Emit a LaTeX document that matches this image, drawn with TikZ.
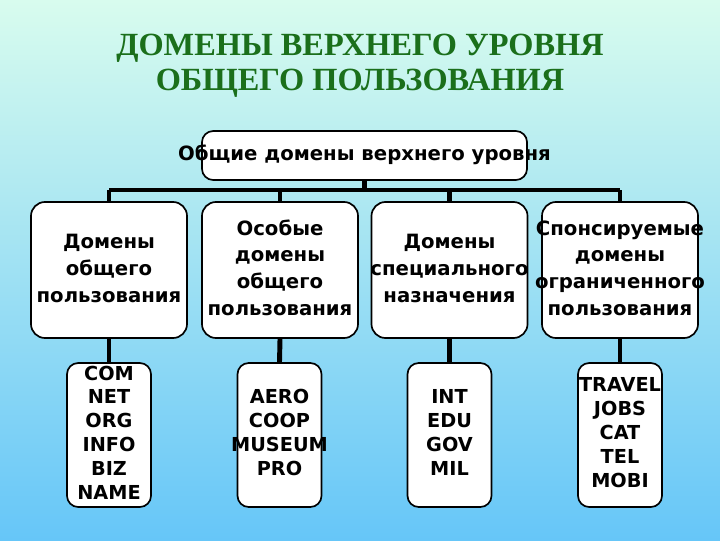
\documentclass[tikz,border=0pt]{standalone}
\usepackage{fontspec}
\newfontfamily\zagolovok{Liberation Serif}
\newfontfamily\shrift{DejaVu Sans}
\usetikzlibrary{positioning}
\definecolor{Zeleny}{HTML}{1B6F1B}
\definecolor{FonVerh}{HTML}{D8FCEE}
\definecolor{FonNiz}{HTML}{66C6F8}
\newcommand{\stroki}[1]{\makebox[0pt]{\begin{tabular}{@{}c@{}}#1\end{tabular}}}

\begin{document}
\begin{tikzpicture}[
  x=0.025cm,y=-0.025cm,
  blok/.style={draw=black,line width=1.2pt,rounded corners=10pt,fill=white,inner sep=0pt,
    minimum width=3.9cm,minimum height=3.4cm,font=\shrift\bfseries\fontsize{14}{19}\selectfont},
  spisok/.style={blok,rounded corners=8pt,minimum width=2.1cm,minimum height=3.6cm,
    font=\shrift\bfseries\fontsize{13.7}{17}\selectfont},
  svyaz/.style={line width=3.5pt,black}
]
  % fon i zagolovok
  \shade[top color=FonVerh,bottom color=FonNiz] (0,0) rectangle (720,540);
  \useasboundingbox (0,0) rectangle (720,540);
  \node[font=\zagolovok\bfseries\fontsize{23}{25}\selectfont,text=Zeleny,align=center] (zag)
    at (360,66) {ДОМЕНЫ ВЕРХНЕГО УРОВНЯ\\ОБЩЕГО ПОЛЬЗОВАНИЯ};

  % verhniy uroven
  \node[blok,rounded corners=8pt,minimum width=8.125cm,minimum height=1.225cm] (obshie)
    at (364.5,155.5) {\stroki{Общие домены верхнего уровня}};
  \coordinate (shina) at (364,190);

  % vidy domenov
  \node[blok] (vid1) at (109,270) {\stroki{Домены\\общего\\пользования}};
  \node[blok] (vid2) at (280,270) {\stroki{Особые\\домены\\общего\\пользования}};
  \node[blok] (vid3) at (449.5,270) {\stroki{Домены\\специального\\назначения}};
  \node[blok] (vid4) at (620,270) {\stroki{Спонсируемые\\домены\\ограниченного\\пользования}};

  % spiski domenov
  \node[spisok] (spis1) at (109,435) {\stroki{COM\\NET\\ORG\\INFO\\BIZ\\NAME}};
  \node[spisok] (spis2) at (279.5,435) {\stroki{AERO\\COOP\\MUSEUM\\PRO}};
  \node[spisok] (spis3) at (449.5,435) {\stroki{INT\\EDU\\GOV\\MIL}};
  \node[spisok] (spis4) at (620,435) {\stroki{TRAVEL\\JOBS\\CAT\\TEL\\MOBI}};

  % svyazi
  \draw[svyaz] (obshie.south) -- (obshie.south |- shina);
  \draw[svyaz] (vid1.north |- shina) -- (vid4.north |- shina);
  \foreach \n in {1,...,4}
    {\draw[svyaz] (vid\n.north |- shina) -- (vid\n.north);
     \draw[svyaz] (vid\n.south) -- (spis\n.north);}
\end{tikzpicture}
\end{document}
